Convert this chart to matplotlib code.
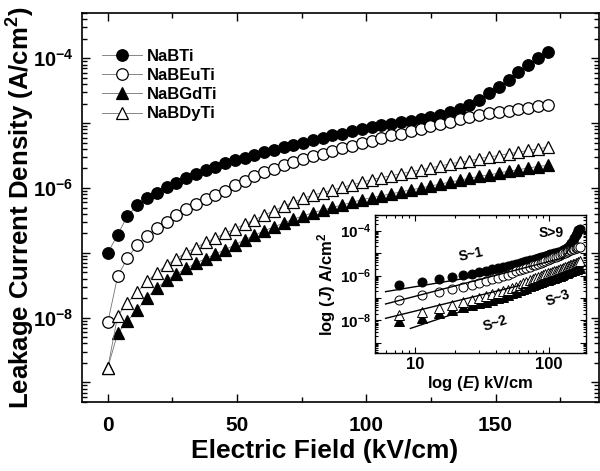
import numpy as np
import matplotlib
matplotlib.use("Agg")
import matplotlib.pyplot as plt
from matplotlib.ticker import FixedLocator, LogLocator, FuncFormatter, NullFormatter

plt.rcParams["font.family"] = ["Liberation Sans", "DejaVu Sans"]
plt.rcParams["font.weight"] = "bold"
plt.rcParams["mathtext.fontset"] = "custom"
plt.rcParams["mathtext.rm"] = "Liberation Sans:bold"
plt.rcParams["mathtext.bf"] = "Liberation Sans:bold"
plt.rcParams["mathtext.it"] = "Liberation Sans:italic:bold"
plt.rcParams["mathtext.default"] = "rm"

# Feld in kV/cm
E = [0, 3.8, 7.6, 11.3, 15.1, 18.9, 22.7, 26.5, 30.2, 34.0,
     37.8, 41.6, 45.4, 49.1, 52.9, 56.7, 60.5, 64.3, 68.0, 71.8,
     75.6, 79.4, 83.2, 86.9, 90.7, 94.5, 98.3, 102.1, 105.8, 109.6,
     113.4, 117.2, 121.0, 124.7, 128.5, 132.3, 136.1, 139.9, 143.6, 147.4,
     151.2, 155.0, 158.8, 162.5, 166.3, 170.1]

# log10 der Stromdichte (A/cm^2)
logJ_NaBTi = [-7.00, -6.72, -6.43, -6.27, -6.16, -6.07, -5.99, -5.92, -5.85, -5.78,
              -5.72, -5.67, -5.62, -5.57, -5.53, -5.49, -5.45, -5.41, -5.37, -5.33,
              -5.30, -5.26, -5.23, -5.19, -5.16, -5.12, -5.09, -5.06, -5.03, -5.01,
              -4.98, -4.96, -4.93, -4.91, -4.87, -4.83, -4.78, -4.72, -4.64, -4.53,
              -4.44, -4.33, -4.21, -4.11, -3.99, -3.91]
logJ_NaBEuTi = [-8.07, -7.36, -7.08, -6.88, -6.74, -6.62, -6.52, -6.42, -6.33, -6.24,
                -6.17, -6.11, -6.04, -5.96, -5.89, -5.82, -5.76, -5.70, -5.65, -5.60,
                -5.55, -5.51, -5.47, -5.43, -5.39, -5.35, -5.31, -5.27, -5.23, -5.19,
                -5.16, -5.12, -5.09, -5.05, -5.01, -4.98, -4.94, -4.91, -4.88, -4.85,
                -4.83, -4.81, -4.78, -4.76, -4.74, -4.72]
logJ_NaBGdTi = [-8.77, -8.24, -8.05, -7.88, -7.69, -7.55, -7.42, -7.33, -7.24, -7.16,
                -7.09, -7.02, -6.95, -6.88, -6.80, -6.73, -6.66, -6.60, -6.54, -6.48,
                -6.43, -6.38, -6.34, -6.30, -6.26, -6.22, -6.18, -6.15, -6.12, -6.09,
                -6.06, -6.03, -6.00, -5.97, -5.94, -5.91, -5.88, -5.85, -5.82, -5.80,
                -5.77, -5.74, -5.72, -5.69, -5.67, -5.65]
logJ_NaBDyTi = [-8.77, -7.97, -7.77, -7.61, -7.44, -7.31, -7.19, -7.09, -7.00, -6.92,
                -6.84, -6.77, -6.70, -6.63, -6.56, -6.49, -6.42, -6.35, -6.28, -6.22,
                -6.16, -6.11, -6.07, -6.03, -5.99, -5.95, -5.91, -5.87, -5.84, -5.81,
                -5.78, -5.75, -5.72, -5.69, -5.66, -5.63, -5.60, -5.58, -5.55, -5.52,
                -5.50, -5.47, -5.45, -5.42, -5.40, -5.37]

namen = ["NaBTi", "NaBEuTi", "NaBGdTi", "NaBDyTi"]
reihen = [logJ_NaBTi, logJ_NaBEuTi, logJ_NaBGdTi, logJ_NaBDyTi]
marker = ["o", "o", "^", "^"]
flaeche = ["black", "white", "black", "white"]

# Fit-Geraden im Inset: (E1, E2), (logJ1, logJ2)
fit_E = [(6, 45), (6, 130), (6, 60), (9.2, 42), (55, 190), (125, 178)]
fit_logJ = [(-6.72, -5.85), (-7.27, -5.20), (-7.91, -6.45), (-8.36, -7.05),
            (-6.75, -5.55), (-5.30, -3.95)]

# Steigungs-Beschriftungen im Inset
s_text = ["S~1", "S~2", "S~3", "S>9"]
s_E = [26, 40, 117, 105]
s_logJ = [-5.08, -8.13, -7.0, -4.09]
s_rot = [12, 18, 20, 0]


def log_label(wert, pos):
    exp = int(round(np.log10(wert)))
    if exp % 2 == 0:
        return r"$10^{%d}$" % exp
    return ""


fig = plt.figure(figsize=(6, 4.71), dpi=100)
ax = fig.add_axes([82 / 600, 1 - 402 / 471, 517 / 600, 389 / 471])

E_arr = np.array(E)
for name, lj, m, fc in zip(namen, reihen, marker, flaeche):
    ax.plot(E_arr, 10 ** np.array(lj), color="0.45", lw=0.6,
            marker=m, ms=8.3, mfc=fc, mec="black", mew=0.9, label=name)

ax.set_yscale("log")
ax.set_xlim(-10, 190)
ax.set_ylim(5e-10, 5e-4)
ax.set_xticks([0, 50, 100, 150])
ax.set_xticks([25, 75, 125, 175], minor=True)
ax.yaxis.set_major_locator(FixedLocator([10.0 ** k for k in range(-9, -3)]))
ax.yaxis.set_minor_locator(LogLocator(base=10, subs=np.arange(2, 10), numticks=20))
ax.yaxis.set_major_formatter(FuncFormatter(log_label))
ax.yaxis.set_minor_formatter(NullFormatter())
ax.tick_params(which="both", direction="in", top=True, right=True, width=1.0)
ax.tick_params(which="major", length=6, labelsize=14.5, pad=6)
ax.tick_params(axis="x", which="major", labelsize=15, pad=10)
ax.tick_params(which="minor", length=3.5)
for s in ax.spines.values():
    s.set_linewidth(1.2)

ax.set_xlabel("Electric Field (kV/cm)", fontsize=19, fontweight="bold")
ax.xaxis.set_label_coords(0.469, -0.095)
ax.set_ylabel("Leakage Current Density (A/cm$^2$)", fontsize=18.5, fontweight="bold")
ax.yaxis.set_label_coords(-0.088, 0.5)

ax.legend(loc="upper left", bbox_to_anchor=(0.025, 0.925), frameon=False,
          fontsize=12, handlelength=2.4, handletextpad=0.3, labelspacing=0.25,
          borderaxespad=0)

# Inset: log-log
ins = fig.add_axes([375 / 600, 1 - 353 / 471, 211 / 600, 138 / 471])
for lj, m, fc in zip(reihen, marker, flaeche):
    ins.plot(E_arr[1:], 10 ** np.array(lj[1:]), ls="none", marker=m, ms=6.5,
             mfc=fc, mec="black", mew=0.7)
for (e1, e2), (j1, j2) in zip(fit_E, fit_logJ):
    ins.plot([e1, e2], [10 ** j1, 10 ** j2], color="black", lw=1.0)
for t, e, j, r in zip(s_text, s_E, s_logJ, s_rot):
    ins.text(e, 10 ** j, t, fontsize=10, fontweight="bold", rotation=r,
             ha="center", va="center", zorder=5)

ins.set_xscale("log")
ins.set_yscale("log")
ins.set_xlim(5, 190)
ins.set_ylim(3.5e-10, 5e-4)
ins.set_xticks([10, 100])
ins.set_xticklabels(["10", "100"])
ins.xaxis.set_minor_locator(LogLocator(base=10, subs=np.arange(2, 10), numticks=10))
ins.xaxis.set_minor_formatter(NullFormatter())
ins.yaxis.set_major_locator(FixedLocator([10.0 ** k for k in range(-9, -3)]))
ins.yaxis.set_minor_locator(LogLocator(base=10, subs=np.arange(2, 10), numticks=20))
ins.yaxis.set_major_formatter(FuncFormatter(log_label))
ins.yaxis.set_minor_formatter(NullFormatter())
ins.tick_params(which="both", direction="in", top=True, right=True, width=0.8)
ins.tick_params(which="major", length=4, pad=3)
ins.tick_params(axis="x", labelsize=12)
ins.tick_params(axis="y", labelsize=11)
ins.tick_params(which="minor", length=2)
for s in ins.spines.values():
    s.set_linewidth(1.0)
ins.set_xlabel("log ($\\mathit{E}$) kV/cm", fontsize=12, fontweight="bold", labelpad=1)
ins.set_ylabel("log ($\\mathit{J}$) A/cm$^2$", fontsize=12, fontweight="bold", labelpad=1)

fig.savefig("out.png", dpi=100)
